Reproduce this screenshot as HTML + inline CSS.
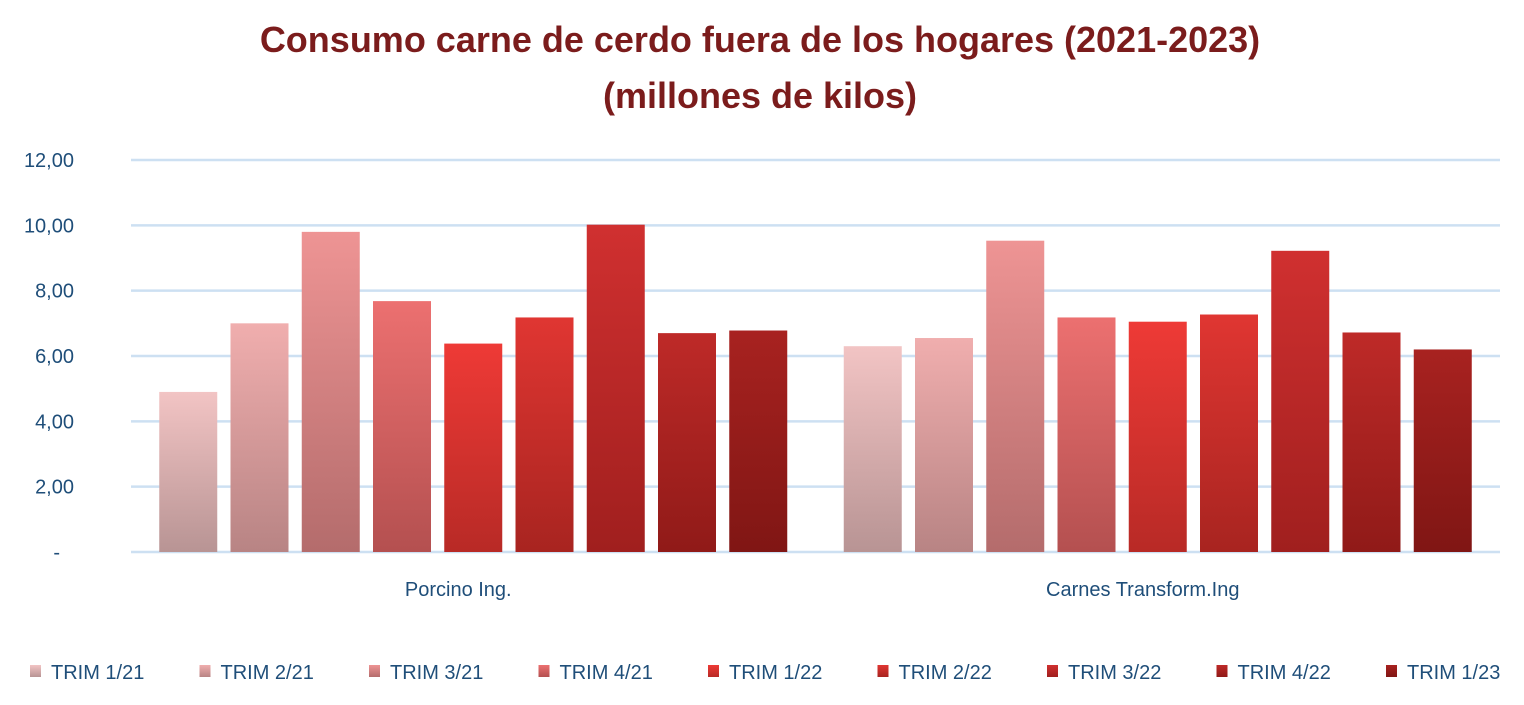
<!DOCTYPE html>
<html><head><meta charset="utf-8"><style>
body{margin:0;background:#fff;}
svg text{font-family:"Liberation Sans",sans-serif;}
</style></head><body>
<svg id="chart" width="1524" height="700" viewBox="0 0 1524 700" xmlns="http://www.w3.org/2000/svg">
<defs id="defs"></defs>
<text x="760" y="52" text-anchor="middle" font-size="36" font-weight="bold" fill="#7b1c1c">Consumo carne de cerdo fuera de los hogares (2021-2023)</text>
<text x="760" y="108" text-anchor="middle" font-size="36" font-weight="bold" fill="#7b1c1c">(millones de kilos)</text>
<g id="grid"></g><g id="bars"></g><g id="labels"></g><g id="legend"></g>
</svg>
<script>
const categories=["Porcino Ing.","Carnes Transform.Ing"];
const seriesNames=["TRIM 1/21","TRIM 2/21","TRIM 3/21","TRIM 4/21","TRIM 1/22","TRIM 2/22","TRIM 3/22","TRIM 4/22","TRIM 1/23"];
const porcinoValues=[4.9,7.0,9.8,7.68,6.38,7.18,10.02,6.7,6.78];
const transformValues=[6.3,6.55,9.53,7.18,7.05,7.27,9.22,6.72,6.2];
const yTicks=[0,2,4,6,8,10,12];
const yTickLabels=["-","2,00","4,00","6,00","8,00","10,00","12,00"];
const topColors=["#f2c4c4","#f0aeae","#ee9494","#ec7070","#ee3a36","#e03632","#d03030","#be2a28","#a82220"];
const botColors=["#b89494","#b88484","#b46c6c","#b45050","#b82a26","#a82420","#a01f1e","#901a18","#801614"];
const NS="http://www.w3.org/2000/svg";
const x0=131,x1=1500,yTop=160,yBot=552,yMax=12;
const y=v=>yBot-(v/yMax)*(yBot-yTop);
const catW=(x1-x0)/categories.length;
const step=71.25,bw=58,pad=(catW-step*seriesNames.length)/2;
function mk(t,a,p){const e=document.createElementNS(NS,t);for(const k in a)e.setAttribute(k,a[k]);p.appendChild(e);return e;}
const defs=document.getElementById('defs');
topColors.forEach((c,i)=>{const g=mk('linearGradient',{id:'g'+i,x1:0,y1:0,x2:0,y2:1},defs);mk('stop',{offset:0,'stop-color':c},g);mk('stop',{offset:1,'stop-color':botColors[i]},g);});
const grid=document.getElementById('grid');
yTicks.forEach((t,i)=>{
 const l=mk('line',{x1:x0,x2:x1,y1:y(t),y2:y(t),stroke:'#cde0f2','stroke-width':2.5},grid);
 
 
 const tx=mk('text',{x:t===0?60:74,y:y(t)+7,'text-anchor':'end','font-size':20,fill:'#1f4e79'},grid);
 tx.textContent=yTickLabels[i];
 
 
});
const bars=document.getElementById('bars');
[porcinoValues,transformValues].forEach((vals,ci)=>{
 vals.forEach((v,si)=>{
  const bx=x0+ci*catW+pad+si*step+(step-bw)/2;
  const r=mk('rect',{x:bx,y:y(v),width:bw,height:yBot-y(v),fill:'url(#g'+si+')'},bars);
  
  
 });
 const t=mk('text',{x:x0+ci*catW+catW/2-15,y:596,'text-anchor':'middle','font-size':20,fill:'#1f4e79'},document.getElementById('labels'));
 t.textContent=categories[ci];
 
 
});
const leg=document.getElementById('legend');
seriesNames.forEach((n,i)=>{
 const lx=30+i*169.5;
 const g=mk('g',{},leg);
 
 
 mk('rect',{x:lx,y:665,width:11,height:12,fill:'url(#g'+i+')'},g);
 const t=mk('text',{x:lx+21,y:679,'font-size':20,fill:'#1f4e79'},g);
 t.textContent=n;
});
</script>
</body></html>
